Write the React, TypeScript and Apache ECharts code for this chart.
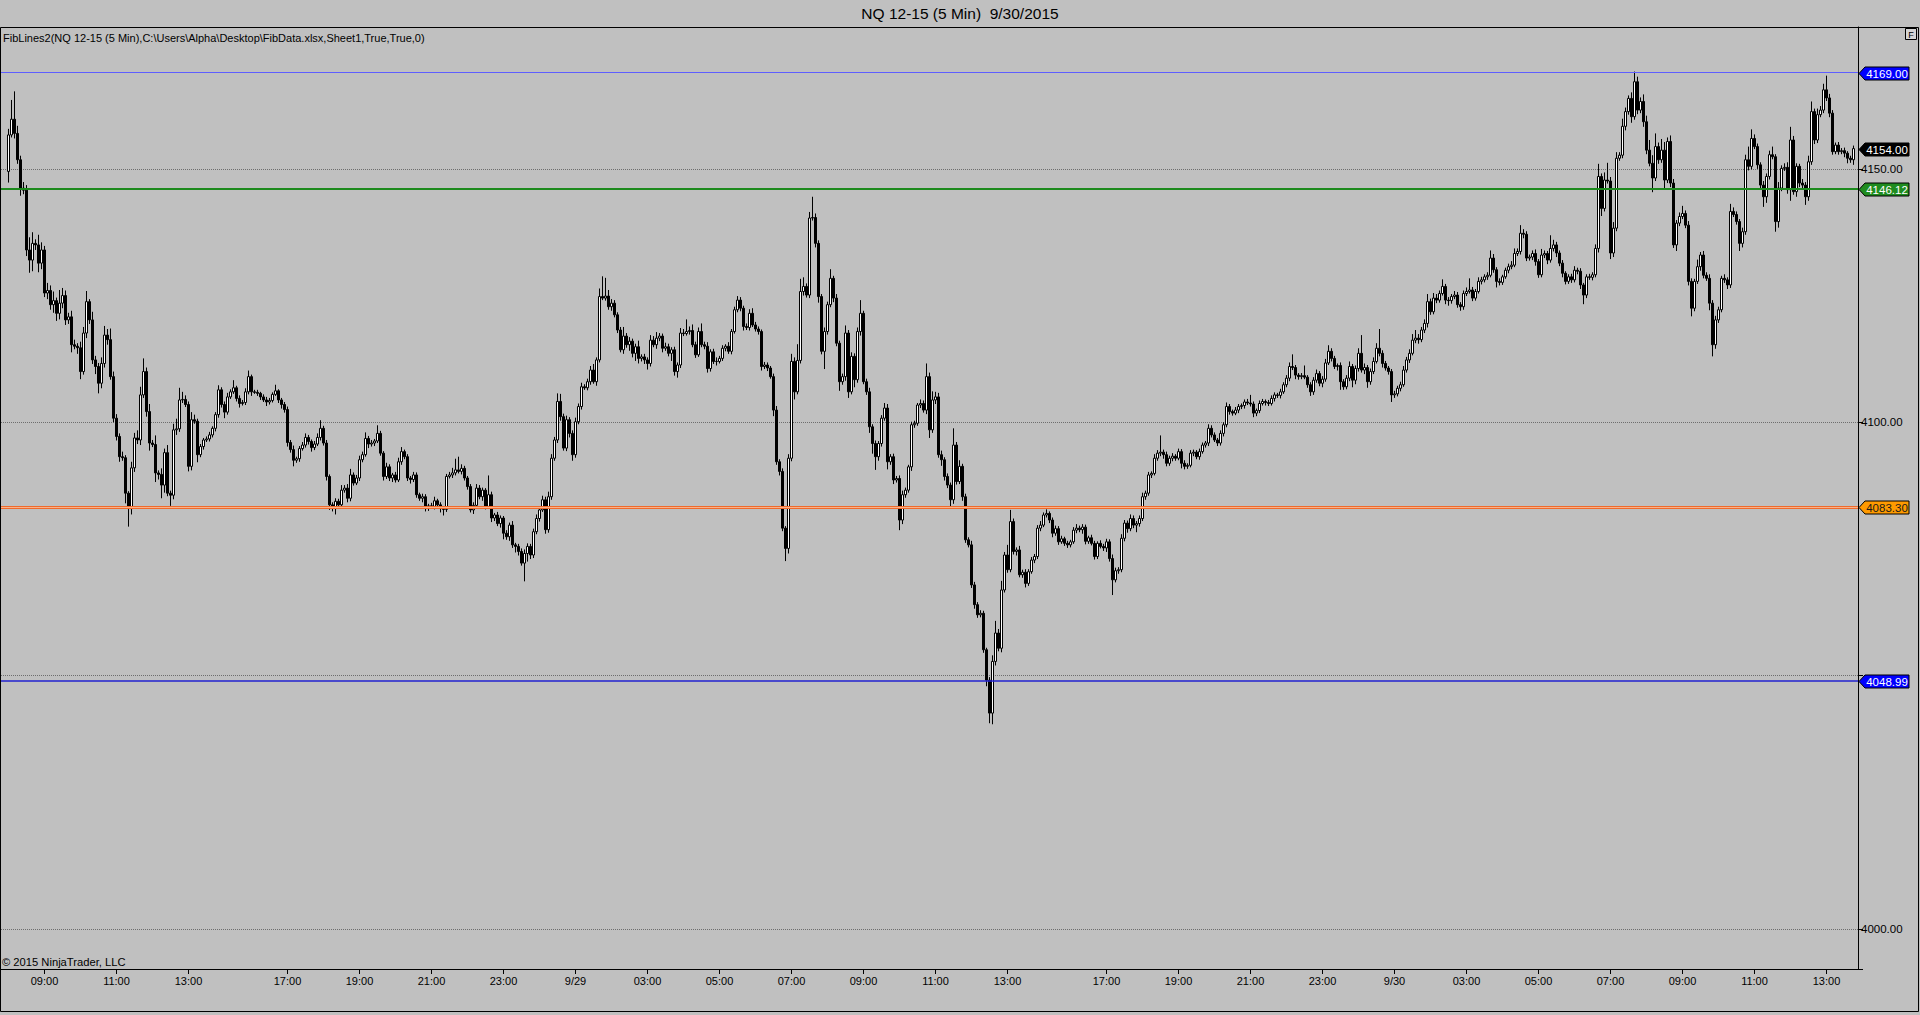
import { useEffect, useRef } from 'react';
import * as echarts from 'echarts';

// NQ 12-15, 5 minute bars. Open of the first bar, then one close per bar.
const firstOpen = 4149.5;

// 9/28 08:00 - 15:40
const closesA = [
  4156.7, 4159.8, 4157.0, 4151.8, 4146.2, 4145.8, 4134.0, 4132.0, 4135.3, 4135.0,
  4131.4, 4134.0, 4125.5, 4126.0, 4123.2, 4124.0, 4121.5, 4123.5, 4125.0, 4120.2,
  4120.8, 4115.3, 4115.0, 4114.7, 4110.0, 4117.6, 4123.8, 4120.2, 4112.3, 4111.0,
  4107.7, 4111.6, 4117.2, 4116.3, 4109.0, 4100.8, 4097.2, 4093.2, 4093.0, 4086.0,
  4083.0, 4091.0, 4096.9, 4096.5, 4105.4, 4110.0, 4102.1, 4095.9, 4095.6, 4090.0,
  4089.7, 4087.6, 4094.0, 4086.0, 4085.6, 4098.5, 4098.7, 4104.4, 4104.5, 4103.5,
  4091.3, 4100.5, 4100.2, 4093.6, 4095.2, 4096.5, 4096.7, 4097.5, 4098.8, 4101.5,
  4106.4, 4103.5, 4102.0, 4105.0, 4106.0, 4106.8, 4104.7, 4103.7, 4103.9, 4106.0,
  4109.0, 4106.0, 4105.9, 4105.7, 4105.0, 4104.4, 4104.0, 4104.3, 4105.5, 4106.2,
  4104.4, 4103.5, 4102.5,
];
const upWickA = [
  1.2, 3.8, 5.5, 1.5, 0.8, 1.2, 1.0, 2.5, 2.2, 0.8,
  2.0, 1.5, 0.8, 1.5, 1.0, 1.8, 0.6, 2.6, 1.5, 1.0,
  0.8, 1.2, 1.0, 0.6, 1.2, 1.2, 2.1, 0.5, 1.6, 0.8,
  0.7, 1.2, 1.8, 1.2, 2.2, 1.0, 0.8, 0.6, 1.0, 0.5,
  0.4, 1.2, 1.0, 1.5, 1.6, 2.6, 0.8, 1.5, 0.6, 1.8,
  0.5, 1.2, 0.8, 1.5, 0.5, 1.2, 2.0, 2.4, 1.5, 0.8,
  0.6, 1.5, 1.0, 0.5, 0.5, 0.4, 0.5, 0.6, 0.4, 0.5,
  0.9, 0.5, 0.6, 0.8, 0.5, 1.5, 0.4, 0.6, 0.5, 0.7,
  1.2, 0.4, 0.4, 0.5, 0.3, 0.5, 0.6, 0.5, 0.4, 1.2,
  0.3, 0.4, 0.5,
];
const downWickA = [
  2.2, 0.5, 1.0, 0.8, 1.5, 0.8, 1.2, 2.5, 2.2, 1.0,
  1.8, 1.2, 0.8, 1.2, 1.0, 1.6, 1.5, 1.2, 1.0, 1.0,
  0.8, 1.5, 0.6, 1.2, 1.5, 0.6, 1.0, 0.8, 0.8, 1.5,
  2.0, 1.0, 0.8, 1.0, 0.6, 0.8, 0.8, 1.0, 0.6, 2.0,
  3.6, 1.2, 0.8, 0.8, 1.0, 0.6, 1.0, 1.5, 0.5, 1.8,
  1.0, 2.6, 1.5, 0.6, 2.1, 0.8, 1.0, 0.6, 0.6, 0.5,
  1.0, 0.8, 0.5, 1.5, 0.5, 0.6, 0.4, 0.5, 0.5, 0.6,
  0.6, 0.6, 1.2, 0.5, 0.4, 0.4, 0.6, 0.8, 0.4, 0.5,
  0.5, 0.8, 0.3, 0.5, 0.6, 0.4, 0.8, 0.5, 0.4, 0.3,
  0.6, 0.8, 0.6,
];

// 9/28 17:00 - 9/29 15:40
const closesB = [
  4096.0, 4094.6, 4092.5, 4092.8, 4094.8, 4095.5, 4097.0, 4096.2, 4095.0, 4095.7,
  4097.0, 4098.8, 4095.9, 4089.3, 4083.7, 4083.0, 4084.4, 4083.7, 4086.6, 4087.0,
  4085.0, 4089.6, 4088.0, 4089.0, 4092.6, 4093.6, 4096.8, 4095.7, 4095.9, 4096.3,
  4097.8, 4093.9, 4089.3, 4091.2, 4089.0, 4089.6, 4088.6, 4092.2, 4094.2, 4093.2,
  4089.0, 4088.7, 4089.6, 4085.7, 4085.0, 4085.3, 4083.0, 4083.5, 4083.4, 4084.5,
  4083.7, 4083.0, 4082.8, 4089.3, 4089.6, 4090.0, 4090.6, 4090.3, 4090.9, 4089.0,
  4087.3, 4082.7, 4083.6, 4087.0, 4085.3, 4086.6, 4083.4, 4085.7, 4081.1, 4081.7,
  4080.0, 4081.1, 4078.1, 4077.4, 4079.7, 4075.8, 4075.5, 4074.5, 4072.2, 4074.1,
  4075.5, 4073.8, 4078.4, 4081.0, 4082.7, 4084.7, 4078.8, 4085.3, 4092.9, 4096.5,
  4104.1, 4101.1, 4094.9, 4100.5, 4097.8, 4093.6, 4100.1, 4103.1, 4107.0, 4106.8,
  4108.0, 4110.3, 4108.0, 4112.3, 4124.8, 4124.5, 4124.9, 4122.8, 4123.5, 4121.2,
  4118.2, 4114.3, 4117.0, 4115.3, 4116.0, 4113.6, 4114.9, 4112.6, 4112.9, 4112.3,
  4111.6, 4116.2, 4115.3, 4116.6, 4117.0, 4114.6, 4114.9, 4113.6, 4114.3, 4110.0,
  4111.3, 4117.6, 4117.5, 4117.9, 4118.1, 4115.3, 4113.3, 4117.9, 4115.3, 4115.0,
  4110.6, 4113.9, 4112.0, 4112.0, 4112.6, 4114.6, 4115.0, 4114.0, 4117.9, 4122.2,
  4124.1, 4122.5, 4118.9, 4118.7, 4121.5, 4119.2, 4118.4, 4117.9, 4111.0, 4111.3,
  4110.7, 4109.0, 4102.4, 4092.2, 4090.3, 4079.1, 4075.1, 4092.9, 4112.0, 4106.0,
  4112.2, 4125.8, 4126.8, 4125.1, 4140.3, 4140.4, 4135.3, 4124.8, 4114.0, 4117.9,
  4123.2, 4128.4, 4124.5, 4115.6, 4108.0, 4109.0, 4117.6, 4106.0, 4113.0, 4108.4,
  4117.9, 4121.5, 4108.0, 4106.0, 4099.1, 4095.8, 4093.2, 4095.8, 4100.8, 4102.8,
  4092.2, 4093.2, 4088.6, 4088.9, 4080.7, 4085.7, 4086.6, 4091.2, 4099.5, 4099.8,
  4103.4, 4103.7, 4102.4, 4109.0, 4098.5, 4104.4, 4105.0, 4093.6, 4092.6, 4089.3,
  4087.6, 4084.7, 4095.5, 4088.3, 4091.3, 4085.3, 4076.8, 4075.8, 4067.9, 4064.0,
  4062.0, 4062.3, 4055.1, 4049.1, 4042.6, 4052.8, 4058.4, 4055.4, 4066.9, 4073.8,
  4070.9, 4080.4, 4074.5, 4074.8, 4069.9, 4070.4, 4068.2, 4070.5, 4072.8, 4073.5,
  4079.1, 4079.7, 4081.7, 4082.0, 4080.7, 4078.1, 4079.0, 4076.4, 4077.0, 4076.1,
  4075.8, 4076.4, 4078.7, 4079.1, 4078.8, 4079.3, 4076.5, 4077.2, 4076.1, 4073.5,
  4076.1, 4075.5, 4075.2,
];
const upWickB = [
  0.6, 0.5, 0.8, 0.4, 0.5, 0.6, 0.8, 0.5, 0.4, 0.6,
  0.8, 1.6, 0.5, 0.6, 0.4, 0.5, 0.6, 0.5, 1.0, 0.6,
  0.8, 1.2, 0.5, 0.6, 0.8, 0.6, 1.2, 0.5, 0.6, 0.4,
  1.6, 0.5, 0.4, 0.8, 0.5, 0.4, 0.6, 0.8, 0.9, 0.4,
  0.5, 0.4, 0.6, 0.5, 0.4, 0.6, 0.5, 0.4, 0.6, 0.8,
  0.4, 0.5, 0.3, 0.5, 0.6, 1.0, 2.2, 2.6, 0.8, 0.5,
  0.4, 0.5, 0.6, 0.8, 0.6, 0.5, 0.4, 3.8, 0.6, 0.4,
  0.6, 0.5, 0.4, 0.6, 0.5, 0.8, 0.4, 0.5, 0.6, 0.8,
  0.6, 0.5, 0.6, 0.8, 0.5, 0.8, 0.6, 1.0, 0.8, 0.6,
  1.6, 1.5, 0.6, 0.8, 0.5, 0.6, 0.8, 0.6, 0.8, 0.5,
  0.6, 0.8, 1.2, 0.5, 1.6, 4.0, 3.6, 1.2, 0.8, 0.6,
  0.5, 0.6, 1.8, 0.6, 0.8, 0.5, 0.6, 1.2, 0.5, 0.6,
  0.5, 1.0, 0.8, 1.2, 0.6, 0.5, 0.8, 0.6, 0.5, 0.6,
  0.5, 1.0, 0.8, 2.4, 0.8, 1.2, 0.6, 0.8, 1.6, 0.6,
  0.8, 0.5, 0.6, 0.8, 0.5, 0.6, 0.4, 0.8, 0.5, 0.6,
  0.8, 0.6, 0.5, 0.6, 0.8, 1.0, 0.6, 0.5, 0.4, 0.6,
  0.5, 0.4, 0.6, 0.8, 0.5, 0.6, 0.4, 0.8, 1.5, 0.8,
  3.2, 2.5, 1.8, 0.6, 1.2, 4.1, 0.8, 0.6, 0.5, 0.8,
  0.6, 1.8, 0.5, 0.8, 0.5, 0.6, 1.5, 0.6, 0.8, 0.6,
  0.8, 2.6, 0.5, 0.6, 0.8, 0.5, 0.6, 0.5, 0.6, 1.0,
  0.8, 0.5, 0.6, 0.5, 0.6, 0.8, 0.5, 0.4, 0.6, 0.5,
  0.4, 0.8, 0.6, 2.6, 0.8, 1.7, 1.0, 0.8, 0.8, 0.5,
  0.6, 0.5, 3.3, 0.6, 1.2, 0.5, 0.6, 0.5, 0.8, 0.6,
  0.5, 0.6, 0.5, 0.4, 0.6, 1.2, 2.4, 0.8, 1.8, 0.6,
  2.0, 2.3, 0.6, 0.5, 0.8, 0.5, 0.6, 0.5, 0.6, 0.5,
  0.6, 0.8, 0.5, 0.8, 0.4, 0.5, 0.6, 0.5, 0.6, 0.4,
  0.5, 0.4, 0.6, 0.8, 0.5, 0.6, 0.5, 0.4, 0.6, 0.5,
  0.4, 0.6, 0.5,
];
const downWickB = [
  0.8, 0.6, 1.2, 0.5, 0.6, 0.4, 0.5, 0.6, 0.8, 0.5,
  0.4, 0.6, 0.5, 0.8, 1.0, 0.6, 1.2, 0.8, 0.6, 0.5,
  0.8, 0.6, 0.5, 0.4, 0.6, 0.5, 0.4, 0.8, 0.5, 0.6,
  0.4, 0.5, 0.8, 0.5, 0.6, 0.8, 0.5, 0.4, 0.6, 0.5,
  0.6, 0.8, 0.5, 0.6, 0.5, 0.8, 0.6, 0.5, 0.4, 0.6,
  0.5, 0.8, 1.2, 0.5, 0.4, 0.6, 0.5, 0.4, 0.6, 0.5,
  0.6, 0.5, 0.8, 0.6, 0.5, 0.8, 0.6, 0.4, 0.8, 0.6,
  0.5, 0.8, 1.2, 0.6, 0.8, 0.6, 1.2, 0.8, 0.5, 3.6,
  1.6, 0.8, 0.6, 0.5, 0.6, 0.4, 0.8, 0.6, 0.6, 0.5,
  0.6, 0.8, 0.5, 0.6, 0.8, 1.2, 0.6, 0.5, 0.6, 0.4,
  0.5, 0.6, 0.4, 0.8, 0.5, 0.4, 0.5, 0.6, 0.8, 0.5,
  0.6, 0.5, 0.8, 0.6, 1.2, 0.8, 1.5, 1.0, 0.6, 0.8,
  1.2, 0.6, 0.5, 0.8, 0.6, 0.8, 0.5, 0.6, 1.5, 0.8,
  1.2, 0.6, 0.5, 0.4, 0.6, 0.5, 0.6, 0.4, 0.5, 0.6,
  0.8, 0.6, 0.5, 0.8, 0.4, 0.5, 0.6, 0.5, 0.6, 0.4,
  0.5, 0.6, 0.8, 0.5, 0.6, 0.4, 0.5, 0.6, 0.8, 0.5,
  0.6, 0.4, 1.2, 0.6, 0.8, 0.6, 2.5, 1.0, 0.6, 1.5,
  0.5, 0.6, 0.8, 0.5, 0.6, 0.5, 0.8, 1.2, 0.6, 3.5,
  0.6, 0.5, 0.8, 0.6, 1.8, 0.6, 0.8, 1.2, 0.5, 1.5,
  0.6, 0.8, 0.5, 0.6, 1.2, 2.0, 2.6, 0.8, 0.6, 0.5,
  1.5, 0.6, 0.8, 0.5, 2.0, 0.8, 0.6, 0.5, 0.8, 0.6,
  0.5, 0.6, 0.5, 0.8, 1.6, 0.6, 0.8, 0.6, 1.2, 0.8,
  0.6, 1.5, 0.8, 0.6, 0.5, 0.8, 0.6, 0.5, 0.6, 0.8,
  0.6, 0.5, 0.6, 1.2, 2.0, 2.2, 0.8, 0.6, 0.8, 0.5,
  0.6, 0.5, 0.6, 0.8, 0.5, 0.6, 0.8, 0.5, 0.4, 0.6,
  0.5, 0.6, 0.4, 0.5, 0.6, 0.8, 0.5, 0.6, 0.4, 0.5,
  0.6, 0.5, 0.4, 0.6, 0.5, 0.8, 0.6, 0.5, 0.4, 0.6,
  0.5, 0.4, 0.6,
];

// 9/29 17:00 - 9/30 13:45
const closesC = [
  4076.4, 4073.1, 4068.9, 4070.7, 4070.9, 4077.1, 4080.1, 4079.0, 4081.0, 4079.7,
  4080.0, 4081.0, 4085.3, 4086.0, 4089.6, 4089.9, 4092.9, 4093.9, 4094.1, 4093.6,
  4091.9, 4092.9, 4093.3, 4092.9, 4094.2, 4091.9, 4091.3, 4091.5, 4093.9, 4094.1,
  4093.2, 4094.2, 4095.5, 4095.9, 4098.8, 4097.5, 4096.5, 4095.9, 4097.8, 4099.5,
  4103.1, 4102.1, 4101.8, 4102.4, 4103.1, 4103.3, 4104.0, 4103.8, 4103.6, 4101.8,
  4102.3, 4103.7, 4104.1, 4103.9, 4103.7, 4104.7, 4105.4, 4105.3, 4106.0, 4107.4,
  4108.7, 4111.0, 4110.8, 4109.3, 4109.0, 4109.2, 4108.9, 4107.4, 4106.0, 4108.3,
  4109.6, 4107.7, 4108.5, 4111.7, 4114.0, 4112.6, 4111.0, 4111.2, 4108.0, 4107.0,
  4108.7, 4111.0, 4108.3, 4110.6, 4113.6, 4110.3, 4110.8, 4108.0, 4110.0, 4112.0,
  4114.6, 4113.6, 4111.6, 4110.7, 4110.0, 4105.4, 4105.6, 4106.7, 4107.4, 4110.3,
  4112.3, 4113.6, 4116.2, 4116.6, 4116.3, 4118.2, 4119.5, 4123.8, 4121.8, 4124.5,
  4124.1, 4125.4, 4126.8, 4124.1, 4124.0, 4124.8, 4125.1, 4123.2, 4122.8, 4125.4,
  4125.8, 4126.1, 4124.5, 4125.8, 4127.8, 4128.1, 4128.7, 4129.0, 4132.4, 4130.1,
  4127.8, 4127.6, 4128.7, 4130.0, 4130.7, 4131.0, 4133.3, 4133.7, 4137.3, 4137.1,
  4132.4, 4132.6, 4133.3, 4131.7, 4129.1, 4133.0, 4133.3, 4132.0, 4134.3, 4135.0,
  4133.4, 4131.4, 4129.4, 4127.8, 4128.7, 4128.1, 4130.0, 4129.8, 4127.1, 4125.1,
  4128.7, 4128.6, 4129.1, 4134.3, 4148.5, 4142.2, 4147.8, 4147.6, 4133.4, 4138.3,
  4152.1, 4152.7, 4158.4, 4161.3, 4163.9, 4160.3, 4167.2, 4161.6, 4163.3, 4159.3,
  4153.7, 4151.1, 4148.2, 4154.4, 4151.8, 4153.7, 4147.8, 4155.4, 4147.2, 4135.0,
  4139.3, 4140.6, 4141.2, 4138.9, 4127.8, 4122.5, 4127.8, 4130.7, 4133.0, 4129.0,
  4128.4, 4123.5, 4115.3, 4120.2, 4122.2, 4128.4, 4128.1, 4127.1, 4141.6, 4141.0,
  4139.6, 4135.3, 4137.6, 4151.8, 4150.5, 4156.0, 4154.4, 4150.8, 4146.8, 4144.5,
  4148.5, 4152.8, 4152.4, 4139.6, 4146.2, 4150.1, 4150.3, 4145.9, 4155.7, 4145.5,
  4150.5, 4147.2, 4146.8, 4144.5, 4151.4, 4161.3, 4155.7, 4160.7, 4161.6, 4165.6,
  4164.0, 4161.0, 4153.4, 4154.7, 4153.4, 4153.6, 4153.1, 4152.1, 4151.8, 4154.0,
];
const upWickC = [
  0.6, 0.5, 0.8, 0.6, 0.5, 0.8, 0.6, 0.5, 0.8, 0.6,
  0.5, 0.6, 0.8, 0.5, 0.6, 0.4, 0.8, 0.6, 3.3, 0.5,
  0.6, 0.5, 0.6, 0.4, 0.6, 0.5, 0.6, 0.4, 0.6, 0.5,
  0.4, 0.6, 0.5, 0.4, 0.8, 0.6, 0.5, 0.4, 0.6, 0.5,
  0.8, 0.5, 0.4, 0.6, 0.5, 0.4, 0.5, 0.6, 1.6, 0.5,
  0.4, 0.6, 0.5, 0.4, 0.5, 0.6, 0.5, 0.4, 0.6, 0.5,
  0.6, 0.8, 2.4, 0.5, 0.4, 0.5, 2.0, 0.4, 0.5, 0.6,
  0.8, 0.5, 0.6, 0.8, 1.2, 0.6, 0.5, 0.4, 0.6, 0.5,
  0.6, 1.0, 0.5, 0.6, 1.0, 3.6, 0.8, 0.5, 0.6, 0.8,
  1.0, 3.8, 0.6, 0.5, 0.4, 0.5, 0.6, 0.5, 0.6, 0.8,
  0.6, 0.8, 1.2, 1.6, 0.8, 0.6, 0.8, 1.5, 0.6, 1.0,
  0.8, 0.6, 1.4, 0.5, 0.6, 0.5, 0.8, 0.6, 0.5, 0.6,
  0.8, 2.3, 0.6, 0.5, 0.8, 0.6, 0.5, 0.6, 1.5, 0.8,
  0.5, 0.6, 0.4, 0.5, 0.6, 0.8, 1.0, 0.6, 1.6, 0.8,
  0.6, 0.5, 0.6, 0.8, 0.5, 1.2, 0.6, 0.5, 2.6, 1.0,
  0.6, 0.5, 0.6, 0.4, 0.5, 0.6, 0.8, 0.5, 0.6, 0.4,
  0.5, 0.6, 0.5, 0.8, 2.5, 0.6, 1.5, 3.4, 0.8, 1.2,
  1.2, 0.6, 1.5, 0.8, 0.6, 1.2, 2.0, 1.0, 0.8, 1.4,
  1.2, 2.0, 1.6, 2.6, 0.8, 2.2, 1.6, 0.8, 1.2, 0.8,
  0.6, 0.8, 1.5, 0.6, 0.8, 0.6, 0.5, 1.4, 0.6, 0.8,
  0.6, 0.8, 0.6, 0.8, 0.6, 0.5, 0.8, 0.5, 1.5, 0.8,
  0.6, 0.5, 0.8, 1.0, 2.6, 1.8, 0.8, 0.6, 0.5, 0.8,
  0.6, 0.8, 1.6, 0.5, 1.2, 0.6, 0.8, 1.0, 2.6, 0.8,
  0.6, 0.5, 0.8, 0.6, 1.2, 2.0, 0.6, 1.2, 0.8, 1.2,
  2.8, 0.8, 0.6, 0.5, 0.6, 0.5, 0.6, 0.4, 0.5, 0.6,
];
const downWickC = [
  0.8, 0.6, 3.0, 0.5, 0.6, 0.5, 0.6, 0.8, 0.5, 0.6,
  1.4, 0.6, 0.5, 0.6, 0.5, 0.6, 0.4, 0.5, 0.6, 0.8,
  0.6, 0.5, 0.6, 0.5, 0.4, 1.0, 0.6, 0.5, 0.4, 0.6,
  0.5, 0.6, 0.4, 0.5, 0.6, 0.5, 0.4, 0.6, 0.5, 0.6,
  0.5, 0.6, 0.5, 0.4, 0.6, 0.5, 0.6, 0.4, 0.5, 0.8,
  0.6, 0.5, 0.4, 0.6, 0.5, 0.4, 0.6, 0.5, 0.6, 0.4,
  0.5, 0.6, 0.5, 0.8, 0.6, 0.5, 0.4, 0.6, 0.8, 0.6,
  0.5, 0.6, 0.8, 0.5, 0.4, 0.6, 0.5, 0.8, 1.6, 0.6,
  0.5, 0.6, 1.4, 0.8, 0.6, 0.5, 0.8, 1.2, 0.6, 0.5,
  0.4, 0.6, 0.8, 0.5, 0.6, 1.4, 0.6, 0.5, 0.6, 0.4,
  0.5, 0.6, 0.4, 0.6, 0.8, 0.5, 0.6, 0.8, 0.6, 0.5,
  0.6, 0.5, 0.4, 0.8, 1.0, 0.6, 0.5, 0.6, 0.8, 0.6,
  0.5, 0.4, 0.6, 0.5, 0.4, 0.6, 0.5, 0.6, 0.4, 0.6,
  1.2, 0.6, 0.5, 0.4, 0.6, 0.5, 0.4, 0.5, 0.6, 0.8,
  0.6, 0.5, 0.6, 0.8, 0.6, 0.5, 0.6, 0.8, 0.5, 0.6,
  0.8, 0.6, 0.8, 0.6, 0.5, 0.6, 0.5, 0.6, 0.8, 1.8,
  0.6, 0.5, 0.6, 0.5, 0.8, 1.5, 0.6, 0.5, 1.2, 0.8,
  0.6, 0.5, 0.6, 0.8, 0.6, 1.2, 0.6, 0.8, 0.6, 1.0,
  0.8, 0.6, 2.8, 0.6, 0.8, 0.6, 1.6, 0.6, 0.8, 0.6,
  1.2, 0.6, 0.5, 0.6, 0.8, 1.6, 0.6, 0.5, 0.8, 0.6,
  0.5, 1.4, 2.3, 0.8, 0.6, 0.5, 0.6, 0.8, 0.6, 0.5,
  0.6, 1.5, 0.8, 0.6, 0.8, 0.6, 0.5, 0.8, 0.6, 2.0,
  1.2, 0.6, 0.5, 2.0, 1.2, 0.6, 0.5, 0.8, 2.2, 0.6,
  1.0, 0.8, 0.6, 1.6, 0.8, 0.6, 0.8, 0.6, 0.5, 0.6,
  0.6, 0.8, 0.6, 0.5, 0.6, 0.5, 0.8, 1.0, 0.6, 1.0,
];

const sessions = [
  { day: 28, startMin: 8 * 60, closes: closesA, up: upWickA, down: downWickA },
  { day: 28, startMin: 17 * 60, closes: closesB, up: upWickB, down: downWickB },
  { day: 29, startMin: 17 * 60, closes: closesC, up: upWickC, down: downWickC },
];

// time axis labels (15:00 is dropped by the platform, too close to 17:00)
const tickTimes = [
  '9/28 09:00', '9/28 11:00', '9/28 13:00', '9/28 17:00', '9/28 19:00', '9/28 21:00', '9/28 23:00',
  '9/29 01:00', '9/29 03:00', '9/29 05:00', '9/29 07:00', '9/29 09:00', '9/29 11:00', '9/29 13:00',
  '9/29 17:00', '9/29 19:00', '9/29 21:00', '9/29 23:00',
  '9/30 01:00', '9/30 03:00', '9/30 05:00', '9/30 07:00', '9/30 09:00', '9/30 11:00', '9/30 13:00',
];

// FibLines2 levels and the last traded price
const fibLevels = [4169.0, 4146.12, 4083.3, 4048.99];
const lastPrice = 4154.0;

const FONT = '"Liberation Sans", Arial, sans-serif';

export default function App() {
  const ref = useRef<HTMLDivElement>(null);

  useEffect(() => {
    if (!ref.current) return;
    const chart = echarts.init(ref.current, null, { renderer: 'svg' });

    const categories: string[] = ['pad-0', 'pad-1'];
    const candles: any[] = ['-', '-'];
    let prev = firstOpen;
    sessions.forEach((s) => {
      s.closes.forEach((c, k) => {
        const t = s.startMin + 5 * k;
        const day = s.day + Math.floor(t / 1440);
        const m = t % 1440;
        const hh = String(Math.floor(m / 60)).padStart(2, '0');
        const mm = String(m % 60).padStart(2, '0');
        categories.push(`9/${day} ${hh}:${mm}`);
        const o = prev;
        const hi = Math.max(o, c) + (s.up[k] ?? 0);
        const lo = Math.min(o, c) - (s.down[k] ?? 0);
        candles.push([o, c, lo, hi]);
        prev = c;
      });
    });
    categories.push('pad-2');
    candles.push('-');

    const tickSet = new Set(tickTimes);
    const showTick = (_i: number, v: string) => tickSet.has(v);

    const levelStyles = [
      { line: '#5e5eff', width: 1, fill: '#0000ff', text: '#ffffff' },
      { line: '#1d8a1d', width: 2, fill: '#1f8c1f', text: '#ffffff' },
      { line: '#ee6a2c', width: 3, fill: '#ff9a00', text: '#1a1a1a' },
      { line: '#2222d0', width: 1.6, fill: '#0000ff', text: '#ffffff' },
    ];

    const levelLines = fibLevels.map((v, i) => ({
      yAxis: v,
      lineStyle: { color: levelStyles[i].line, width: levelStyles[i].width, type: 'solid' },
    }));
    // light core of the orange level
    levelLines.push({ yAxis: fibLevels[2], lineStyle: { color: '#f9b28a', width: 1, type: 'solid' } });

    const option = {
      animation: false,
      backgroundColor: '#c0c0c0',
      grid: { left: 1, right: 62, top: 27, bottom: 46 },
      xAxis: {
        type: 'category',
        data: categories,
        boundaryGap: true,
        axisLine: { show: true, lineStyle: { color: '#000', width: 1 } },
        axisTick: { show: true, interval: showTick, alignWithLabel: true, length: 5, lineStyle: { color: '#000' } },
        axisLabel: {
          interval: showTick,
          color: '#000',
          fontSize: 11,
          fontFamily: FONT,
          margin: 6,
          formatter: (v: string) => {
            const [d, t] = v.split(' ');
            return t === '01:00' ? d : t;
          },
        },
        splitLine: { show: false },
      },
      yAxis: {
        type: 'value',
        position: 'right',
        min: 3992.1,
        max: 4178.0,
        minInterval: 50,
        maxInterval: 50,
        axisLine: { show: true, lineStyle: { color: '#000', width: 1 } },
        axisTick: { show: true, length: 5, lineStyle: { color: '#000' } },
        axisLabel: {
          color: '#000',
          fontSize: 11.5,
          fontFamily: FONT,
          margin: 3,
          formatter: (v: number) => (v % 50 === 0 && v !== 4050 ? v.toFixed(2) : ''),
        },
        splitLine: { show: true, lineStyle: { type: 'dotted', color: '#6e6e6e', width: 1 } },
      },
      series: [
        {
          type: 'candlestick',
          data: candles,
          large: false,
          barWidth: 2,
          itemStyle: {
            color: '#ffffff',
            color0: '#000000',
            borderColor: '#000000',
            borderColor0: '#000000',
            borderWidth: 1,
          },
          markLine: {
            silent: true,
            animation: false,
            symbol: ['none', 'none'],
            label: { show: false },
            data: levelLines,
          },
        },
      ],
    };

    chart.setOption(option as any);

    const toY = (v: number) => chart.convertToPixel({ yAxisIndex: 0 }, v) as number;
    const tag = (value: number, fill: string, text: string) => {
      const y = Math.round(toY(value)) + 0.5;
      return [
        {
          type: 'polygon',
          z: 100,
          shape: { points: [[1859, y], [1865, y - 6.5], [1909, y - 6.5], [1909, y + 6.5], [1865, y + 6.5]] },
          style: { fill, stroke: '#000', lineWidth: 1 },
        },
        {
          type: 'text',
          z: 101,
          x: 1887,
          y,
          style: {
            text: value.toFixed(2),
            fill: text,
            font: `11.5px ${FONT}`,
            textAlign: 'center',
            textVerticalAlign: 'middle',
          },
        },
      ];
    };

    const tags = [
      ...fibLevels.flatMap((v, i) => tag(v, levelStyles[i].fill, levelStyles[i].text)),
      ...tag(lastPrice, '#000000', '#ffffff'),
    ];

    chart.setOption({
      graphic: [
        {
          type: 'text',
          x: 960,
          y: 13,
          style: {
            text: 'NQ 12-15 (5 Min)  9/30/2015',
            fill: '#000',
            font: `15.5px ${FONT}`,
            textAlign: 'center',
            textVerticalAlign: 'middle',
          },
        },
        {
          type: 'rect',
          z: 90,
          shape: { x: 0.5, y: 27.5, width: 1918, height: 984 },
          style: { fill: 'none', stroke: '#000', lineWidth: 1 },
        },
        {
          type: 'line',
          z: 90,
          shape: { x1: 0, y1: 969.5, x2: 1859, y2: 969.5 },
          style: { stroke: '#000', lineWidth: 1 },
        },
        {
          type: 'text',
          x: 3,
          y: 38,
          style: {
            text: 'FibLines2(NQ 12-15 (5 Min),C:\\Users\\Alpha\\Desktop\\FibData.xlsx,Sheet1,True,True,0)',
            fill: '#000',
            font: `11px ${FONT}`,
            textAlign: 'left',
            textVerticalAlign: 'middle',
          },
        },
        {
          type: 'text',
          x: 2,
          y: 962,
          style: {
            text: '© 2015 NinjaTrader, LLC',
            fill: '#000',
            font: `11.2px ${FONT}`,
            textAlign: 'left',
            textVerticalAlign: 'middle',
          },
        },
        {
          type: 'rect',
          z: 95,
          shape: { x: 1905.5, y: 28.5, width: 11, height: 11 },
          style: { fill: '#d4d4d4', stroke: '#000', lineWidth: 1 },
        },
        {
          type: 'text',
          z: 96,
          x: 1911,
          y: 34.5,
          style: { text: 'F', fill: '#000', font: `9px ${FONT}`, textAlign: 'center', textVerticalAlign: 'middle' },
        },
        ...tags,
      ],
    } as any);

    return () => chart.dispose();
  }, []);

  return (
    <div
      ref={ref}
      style={{ position: 'fixed', left: 0, top: 0, width: 1920, height: 1015, background: '#c0c0c0' }}
    />
  );
}
